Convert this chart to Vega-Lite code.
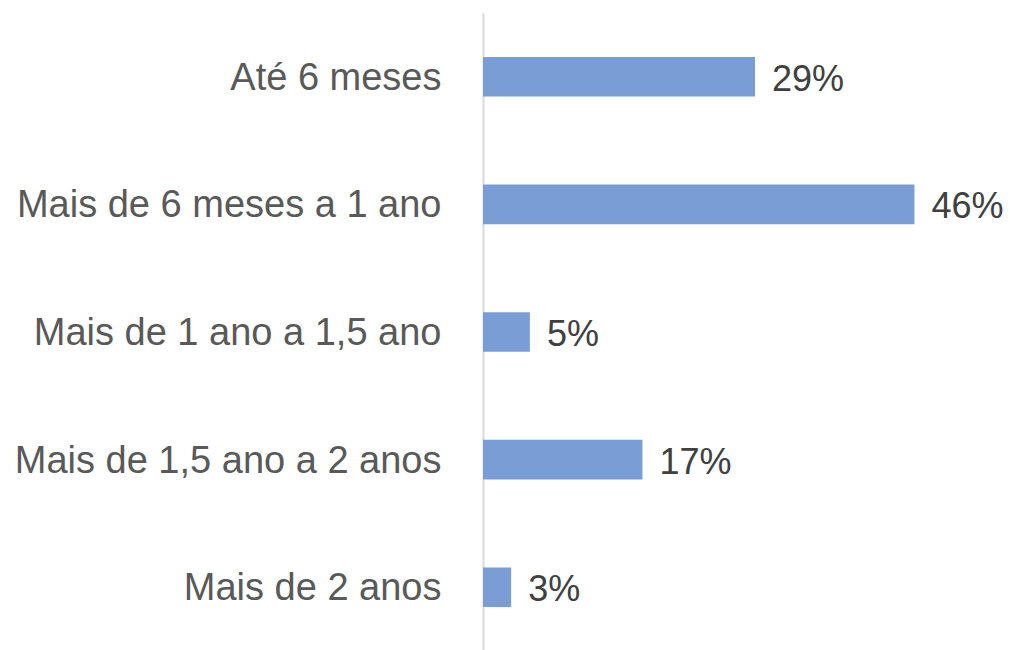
{
  "$schema": "https://vega.github.io/schema/vega-lite/v6.json",
  "width": 469,
  "height": 638,
  "autosize": {"type": "none"},
  "padding": {"left": 483, "top": 13, "right": 58, "bottom": 0},
  "background": "white",
  "config": {"view": {"stroke": null}},
  "data": {
    "values": [
      {"categoria": "Até 6 meses", "valor": 0.29},
      {"categoria": "Mais de 6 meses a 1 ano", "valor": 0.46},
      {"categoria": "Mais de 1 ano a 1,5 ano", "valor": 0.05},
      {"categoria": "Mais de 1,5 ano a 2 anos", "valor": 0.17},
      {"categoria": "Mais de 2 anos", "valor": 0.03}
    ]
  },
  "encoding": {
    "y": {
      "field": "categoria",
      "type": "nominal",
      "sort": null,
      "scale": {"paddingInner": 0.69, "paddingOuter": 0.345},
      "axis": {
        "title": null,
        "ticks": false,
        "labelFont": "Liberation Sans",
        "labelFontSize": 38,
        "labelColor": "#595959",
        "labelPadding": 42,
        "labelLimit": 600,
        "labelOffset": 2,
        "domainColor": "#d9d9d9",
        "domainWidth": 2
      }
    },
    "x": {
      "field": "valor",
      "type": "quantitative",
      "scale": {"domain": [0, 0.5]},
      "axis": null
    }
  },
  "layer": [
    {"mark": {"type": "bar", "color": "#7b9dd6"}},
    {
      "mark": {"type": "text", "align": "left", "baseline": "middle", "dx": 17, "dy": 3, "font": "Liberation Sans", "fontSize": 36, "color": "#404040"},
      "encoding": {"text": {"field": "valor", "type": "quantitative", "format": ".0%"}}
    }
  ]
}
